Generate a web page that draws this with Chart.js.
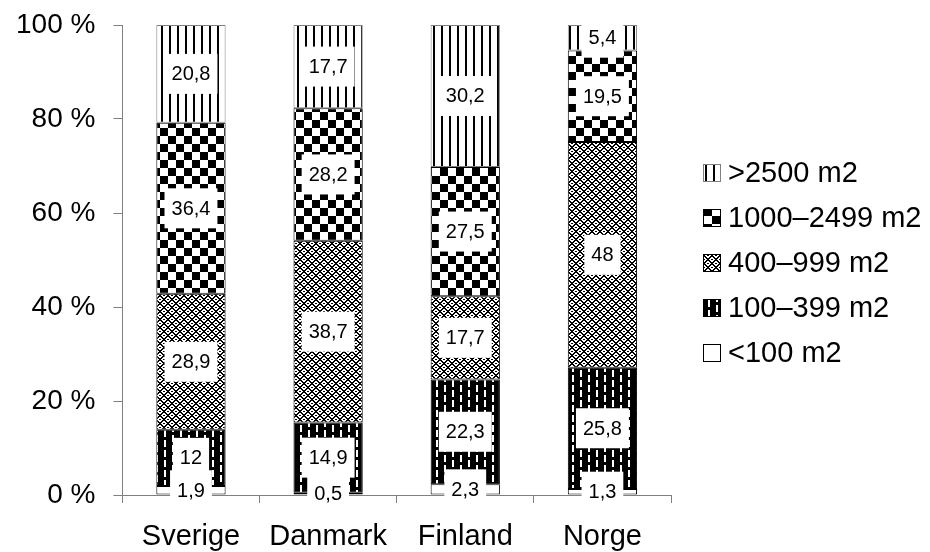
<!DOCTYPE html>
<html>
<head>
<meta charset="utf-8">
<script src="https://cdn.jsdelivr.net/npm/chart.js@4.4.1/dist/chart.umd.min.js"></script>
<style>
  body { margin: 0; background: #fff; }
  #chartArea { display: block; }
</style>
</head>
<body>
<canvas id="chartArea" width="930" height="552"></canvas>
<script>
// data
const countries = ["Sverige", "Danmark", "Finland", "Norge"];
const seriesNames = ["<100 m2", "100–399 m2", "400–999 m2", "1000–2499 m2", ">2500 m2"];
const under100 = [1.9, 0.5, 2.3, 1.3];
const from100to399 = [12, 14.9, 22.3, 25.8];
const from400to999 = [28.9, 38.7, 17.7, 48];
const from1000to2499 = [36.4, 28.2, 27.5, 19.5];
const over2500 = [20.8, 17.7, 30.2, 5.4];
const yTicks = [0, 20, 40, 60, 80, 100];

const FONT = "'Liberation Sans', Arial, sans-serif";

// make a small canvas and use it as a fill pattern
function makePattern(w, h, draw) {
  const c = document.createElement("canvas");
  c.width = w;
  c.height = h;
  const g = c.getContext("2d");
  draw(g);
  return g.createPattern(c, "repeat");
}

// bitmap rows -> pattern (1 = black)
function bitPattern(rows) {
  return makePattern(rows[0].length, rows.length, function (g) {
    g.fillStyle = "#fff";
    g.fillRect(0, 0, rows[0].length, rows.length);
    g.fillStyle = "#000";
    rows.forEach(function (r, y) {
      for (let x = 0; x < r.length; x++) if (r[x] === "1") g.fillRect(x, y, 1, 1);
    });
  });
}

// white, plain
const fillUnder100 = "#ffffff";
// black with white vertical dashes
const fill100 = makePattern(16, 10, function (g) {
  g.fillStyle = "#000";
  g.fillRect(0, 0, 16, 10);
  g.fillStyle = "#fff";
  g.fillRect(4, 0, 2, 7);
  g.fillRect(12, 5, 2, 5);
  g.fillRect(12, 0, 2, 2);
});
// zig zag weave
const fill400 = bitPattern([
  "11000011",
  "01100110",
  "00111100",
  "10011001",
  "00111100",
  "01100110",
  "11000011",
  "10011001",
]);
// checkerboard
const fill1000 = makePattern(16, 16, function (g) {
  g.fillStyle = "#fff";
  g.fillRect(0, 0, 16, 16);
  g.fillStyle = "#000";
  g.fillRect(0, 0, 8, 8);
  g.fillRect(8, 8, 8, 8);
});
// vertical lines
const fill2500 = makePattern(8, 8, function (g) {
  g.fillStyle = "#fff";
  g.fillRect(0, 0, 8, 8);
  g.fillStyle = "#000";
  g.fillRect(1, 0, 2, 8);
});

const seriesData = [under100, from100to399, from400to999, from1000to2499, over2500];
const seriesFill = [fillUnder100, fill100, fill400, fill1000, fill2500];
const seriesBorder = ["#000", "#000", "#000", "#000", "#808080"];

// white box with the value inside every segment
const valueLabels = {
  id: "valueLabels",
  afterDatasetsDraw(chart) {
    const ctx = chart.ctx;
    ctx.save();
    ctx.font = "20px " + FONT;
    ctx.textAlign = "center";
    ctx.textBaseline = "middle";
    chart.data.datasets.forEach(function (ds, i) {
      const meta = chart.getDatasetMeta(i);
      meta.data.forEach(function (bar, j) {
        const txt = String(ds.data[j]).replace(".", ",");
        const cy = (bar.y + bar.base) / 2;
        const w = ctx.measureText(txt).width + 14;
        const h = 40;
        ctx.fillStyle = "#fff";
        ctx.fillRect(bar.x - w / 2, cy - h / 2, w, h);
        ctx.fillStyle = "#000";
        ctx.fillText(txt, bar.x, cy + 1);
      });
    });
    ctx.restore();
  },
};

// legend drawn by hand on the right side
const sideLegend = {
  id: "sideLegend",
  afterDraw(chart) {
    const ctx = chart.ctx;
    const sets = chart.data.datasets;
    ctx.save();
    ctx.font = "29px " + FONT;
    ctx.textAlign = "left";
    ctx.textBaseline = "middle";
    for (let k = 0; k < sets.length; k++) {
      const ds = sets[sets.length - 1 - k];
      const cy = 173 + k * 45;
      ctx.fillStyle = ds.backgroundColor;
      ctx.fillRect(703, cy - 9, 18, 18);
      ctx.strokeStyle = ds.borderColor;
      ctx.lineWidth = 1;
      ctx.strokeRect(703.5, cy - 8.5, 17, 17);
      ctx.fillStyle = "#000";
      ctx.fillText(ds.label, 728, cy + 1);
    }
    ctx.restore();
  },
};

const ctx = document.getElementById("chartArea").getContext("2d");
const myChart = new Chart(ctx, {
  type: "bar",
  data: {
    labels: countries,
    datasets: seriesNames.map(function (name, i) {
      return {
        label: name,
        data: seriesData[i],
        backgroundColor: seriesFill[i],
        borderColor: seriesBorder[i],
        borderWidth: 1,
        borderSkipped: false,
        barPercentage: 0.505,
        categoryPercentage: 1,
      };
    }),
  },
  options: {
    responsive: false,
    animation: false,
    // chart.js keeps room for the tick padding twice, so pull it back
    layout: { padding: { left: -2, top: 25, right: 259, bottom: -18 } },
    plugins: {
      legend: { display: false },
      tooltip: { enabled: false },
    },
    scales: {
      x: {
        stacked: true,
        grid: {
          display: true,
          drawOnChartArea: false,
          drawTicks: true,
          tickLength: 8,
          color: "#808080",
          offset: true,
        },
        border: { color: "#808080" },
        ticks: {
          color: "#000",
          font: { family: FONT, size: 29, lineHeight: 1 },
          padding: 19,
          maxRotation: 0,
        },
      },
      y: {
        stacked: true,
        min: 0,
        max: 100,
        afterBuildTicks(scale) {
          scale.ticks = yTicks.map(function (v) { return { value: v }; });
        },
        afterFit(scale) {
          // top label may hang over the canvas padding
          scale.paddingTop = 0;
        },
        grid: {
          drawOnChartArea: false,
          drawTicks: true,
          tickLength: 9,
          color: "#808080",
        },
        border: { color: "#808080" },
        ticks: {
          color: "#000",
          font: { family: FONT, size: 28, lineHeight: 1 },
          padding: 18,
          callback: function (v) { return v + " %"; },
        },
      },
    },
  },
  plugins: [valueLabels, sideLegend],
});
</script>
</body>
</html>
